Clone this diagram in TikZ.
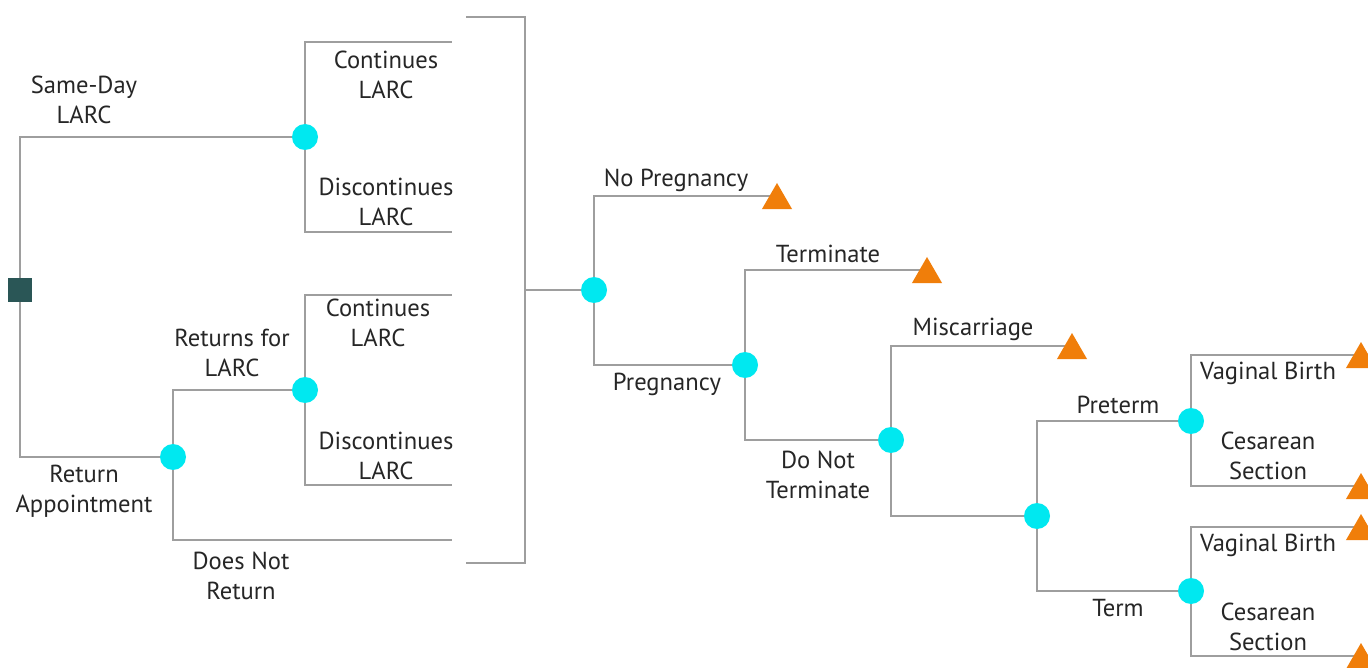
\documentclass[tikz,border=0pt]{standalone}
\usepackage{fontspec}
\setmainfont{PT Sans}
\usetikzlibrary{shapes.geometric}
\definecolor{linegray}{HTML}{9E9E9E}
\definecolor{txtgray}{HTML}{262626}
\definecolor{chancecyan}{HTML}{00E8F0}
\definecolor{leaforange}{HTML}{F07E0A}
\definecolor{decteal}{HTML}{2A5656}
\tikzset{
  branch/.style={draw=linegray, line width=0.6pt},
  chance/.style={circle, fill=chancecyan, minimum size=0.52cm, inner sep=0pt},
  decision/.style={rectangle, fill=decteal, minimum size=0.48cm, inner sep=0pt},
  leaf/.style={regular polygon, regular polygon sides=3, fill=leaforange, minimum size=0.7cm, inner sep=0pt, yshift=-0.09cm},
  lbl/.style={text=txtgray, align=center, inner sep=0pt, font=\fontsize{14}{17}\selectfont}
}
\begin{document}
\begin{tikzpicture}[x=0.02cm, y=-0.02cm]
\clip (0,0) rectangle (1368,668);
\fill[white] (0,0) rectangle (1368,668);

% nodes
\node[decision] (sq) at (20,290) {};
\node[chance] (c1) at (305,137) {};
\node[chance] (c2) at (173,457) {};
\node[chance] (c3) at (305,390) {};
\node[chance] (c4) at (594,290) {};
\node[chance] (c5) at (745,365) {};
\node[chance] (c6) at (891,440) {};
\node[chance] (c7) at (1037,516) {};
\node[chance] (c8) at (1191,421) {};
\node[chance] (c9) at (1191,591) {};

% free ends
\coordinate (e1) at (452,42);
\coordinate (e2) at (452,232);
\coordinate (e3) at (452,295);
\coordinate (e4) at (452,485);
\coordinate (e5) at (452,540);
\coordinate (b1) at (466,17);
\coordinate (b2) at (466,563);
\coordinate (bm) at (525,290);
\coordinate (n1) at (772,196);
\coordinate (n2) at (922,270);
\coordinate (n3) at (1067,346);
\coordinate (n4) at (1355,355);
\coordinate (n5) at (1355,486);
\coordinate (n6) at (1355,527);
\coordinate (n7) at (1355,656);

% branches
\draw[branch] (sq.north) |- (c1.west);
\draw[branch] (sq.south) |- (c2.west);
\draw[branch] (c1.north) |- (e1);
\draw[branch] (c1.south) |- (e2);
\draw[branch] (c2.north) |- (c3.west);
\draw[branch] (c2.south) |- (e5);
\draw[branch] (c3.north) |- (e3);
\draw[branch] (c3.south) |- (e4);
\draw[branch] (b1) -| (bm) |- (b2);
\draw[branch] (bm) -- (c4.west);
\draw[branch] (c4.north) |- (n1);
\draw[branch] (c4.south) |- (c5.west);
\draw[branch] (c5.north) |- (n2);
\draw[branch] (c5.south) |- (c6.west);
\draw[branch] (c6.north) |- (n3);
\draw[branch] (c6.south) |- (c7.west);
\draw[branch] (c7.north) |- (c8.west);
\draw[branch] (c7.south) |- (c9.west);
\draw[branch] (c8.north) |- (n4);
\draw[branch] (c8.south) |- (n5);
\draw[branch] (c9.north) |- (n6);
\draw[branch] (c9.south) |- (n7);

% terminal nodes
\node[leaf] (t1) at ([xshift=0.1cm]n1) {};
\node[leaf] (t2) at ([xshift=0.1cm]n2) {};
\node[leaf] (t3) at ([xshift=0.1cm]n3) {};
\node[leaf] (t4) at ([xshift=0.12cm]n4) {};
\node[leaf] (t5) at ([xshift=0.12cm]n5) {};
\node[leaf] (t6) at ([xshift=0.12cm]n6) {};
\node[leaf] (t7) at ([xshift=0.12cm]n7) {};

% labels
\node[lbl] (l1) at (84,100) {Same-Day\\LARC};
\node[lbl] (l2) at (84,491) {Return\\Appointment};
\node[lbl] (l3) at (386,75) {Continues\\LARC};
\node[lbl] (l4) at (386,202) {Discontinues\\LARC};
\node[lbl] (l5) at (378,323) {Continues\\LARC};
\node[lbl] (l6) at (386,456) {Discontinues\\LARC};
\node[lbl] (l7) at (232,353) {Returns for\\LARC};
\node[lbl] (l8) at (241,576) {Does Not\\Return};
\node[lbl] (l9) at (676,180) {No Pregnancy};
\node[lbl] (l10) at (667,384) {Pregnancy};
\node[lbl] (l11) at (828,254) {Terminate};
\node[lbl] (l12) at (818,475) {Do Not\\Terminate};
\node[lbl] (l13) at (973,329) {Miscarriage};
\node[lbl] (l14) at (1118,405) {Preterm};
\node[lbl] (l15) at (1118,608) {Term};
\node[lbl] (l16) at (1268,373) {Vaginal Birth};
\node[lbl] (l17) at (1268,456) {Cesarean\\Section};
\node[lbl] (l18) at (1268,545) {Vaginal Birth};
\node[lbl] (l19) at (1268,627) {Cesarean\\Section};
\end{tikzpicture}
\end{document}
